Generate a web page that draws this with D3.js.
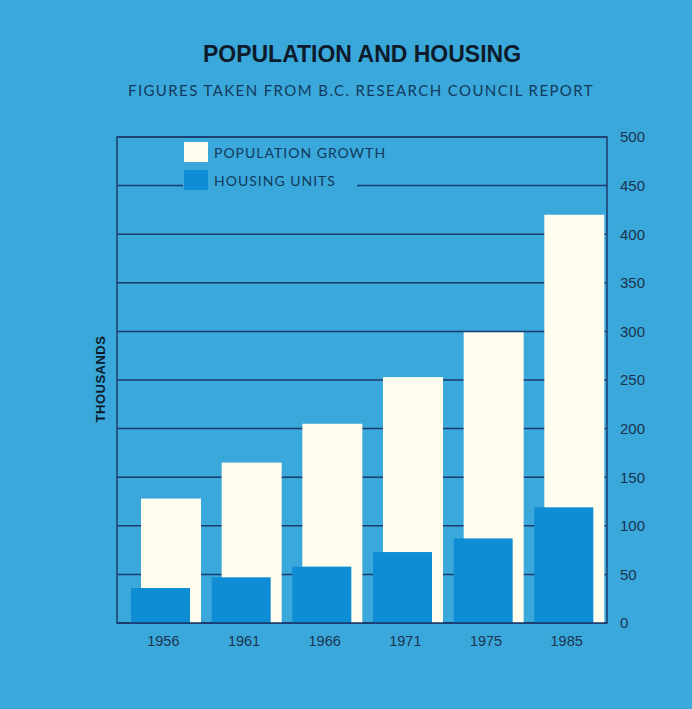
<!DOCTYPE html>
<html><head><meta charset="utf-8">
<script src="https://cdn.jsdelivr.net/npm/d3@7"></script>
<style>
html,body{margin:0;padding:0;background:#3aa8db;}
svg{display:block;}
</style></head>
<body>
<script>
const years = ["1956","1961","1966","1971","1975","1985"];
const population = [128, 165, 205, 253, 299, 420];
const housing = [36, 47, 58, 73, 87, 119];
const yTicks = [0,50,100,150,200,250,300,350,400,450,500];
const seriesNames = ["POPULATION GROWTH","HOUSING UNITS"];

(function(){
const W = 692, H = 709;
const bg = "#3aa8db", blue = "#0e8dd4", cream = "#fffdee", line = "#1b3b6c";
const svg = d3.select("body").append("svg").attr("width", W).attr("height", H);
svg.append("rect").attr("width", W).attr("height", H).attr("fill", bg);

const pL = 117, pR = 607, pT = 137, pB = 623;
const x = d3.scaleBand().domain(years).range([pL, 601]);
const y = d3.scaleLinear().domain([0,500]).range([pB, pT]);

svg.append("g").selectAll("line").data(yTicks).join("line")
  .attr("x1", pL).attr("x2", pR)
  .attr("y1", d => y(d)).attr("y2", d => y(d))
  .attr("stroke", line).attr("stroke-width", 1.5);

svg.append("rect").attr("x", pL).attr("y", pT)
  .attr("width", pR-pL).attr("height", pB-pT)
  .attr("fill", "none").attr("stroke", line).attr("stroke-width", 1.5);

svg.append("g").selectAll("rect").data(years).join("rect")
  .attr("x", d => x(d) + 24).attr("width", 60)
  .attr("y", (d,i) => y(population[i]))
  .attr("height", (d,i) => y(0) - y(population[i]))
  .attr("fill", cream);

svg.append("g").selectAll("rect").data(years).join("rect")
  .attr("x", d => x(d) + 14).attr("width", 59)
  .attr("y", (d,i) => y(housing[i]))
  .attr("height", (d,i) => y(0) - y(housing[i]))
  .attr("fill", blue);

svg.append("line").attr("x1", pL).attr("x2", pR).attr("y1", y(0)).attr("y2", y(0))
  .attr("stroke", line).attr("stroke-width", 1.5);

const yAxis = d3.axisRight(y).tickValues(yTicks).tickSize(0).tickPadding(0);
const ga = svg.append("g").attr("transform", "translate(620,0)").call(yAxis);
ga.select(".domain").remove();
ga.selectAll("text").attr("font-family", "Liberation Sans, Arial, sans-serif")
  .attr("font-size", 15).attr("fill", "#1c3450").attr("text-anchor", "start");

const xAxis = d3.axisBottom(x).tickSize(0).tickPadding(0);
const gx = svg.append("g").attr("transform", "translate(6,636)").call(xAxis);
gx.select(".domain").remove();
gx.selectAll("text").attr("font-family", "Liberation Sans, Arial, sans-serif")
  .attr("font-size", 14.5).attr("fill", "#1c3450").attr("dy", "0.71em");

const lg = svg.append("g");
lg.append("rect").attr("x", 183).attr("y", 139).attr("width", 174).attr("height", 56).attr("fill", bg);
const legendColors = [cream, blue];
seriesNames.forEach((n, i) => {
  lg.append("rect").attr("x", 184).attr("y", 142 + i*28).attr("width", 24).attr("height", 20).attr("fill", legendColors[i]);
  lg.append("text").attr("x", 214).attr("y", 158 + i*28).text(n)
    .attr("font-family", "Lato, 'Open Sans', sans-serif").attr("font-size", 14)
    .attr("letter-spacing", 1).attr("fill", "#123a5c");
});

svg.append("text").attr("x", 362).attr("y", 62).attr("text-anchor", "middle")
  .attr("font-family", "Liberation Sans, Arial, sans-serif").attr("font-weight", "bold")
  .attr("font-size", 23).attr("fill", "#0d1b2a").text("POPULATION AND HOUSING");
svg.append("text").attr("x", 361).attr("y", 96).attr("text-anchor", "middle")
  .attr("font-family", "Lato, 'Open Sans', sans-serif")
  .attr("font-size", 15).attr("letter-spacing", 1.4).attr("fill", "#123a5c")
  .text("FIGURES TAKEN FROM B.C. RESEARCH COUNCIL REPORT");

svg.append("text").attr("transform", "translate(105,379) rotate(-90)")
  .attr("text-anchor", "middle").attr("font-family", "Liberation Sans, Arial, sans-serif")
  .attr("font-weight", "bold").attr("font-size", 13).attr("letter-spacing", 0.5)
  .attr("fill", "#0d1b2a").text("THOUSANDS");
})();
</script>
</body></html>
